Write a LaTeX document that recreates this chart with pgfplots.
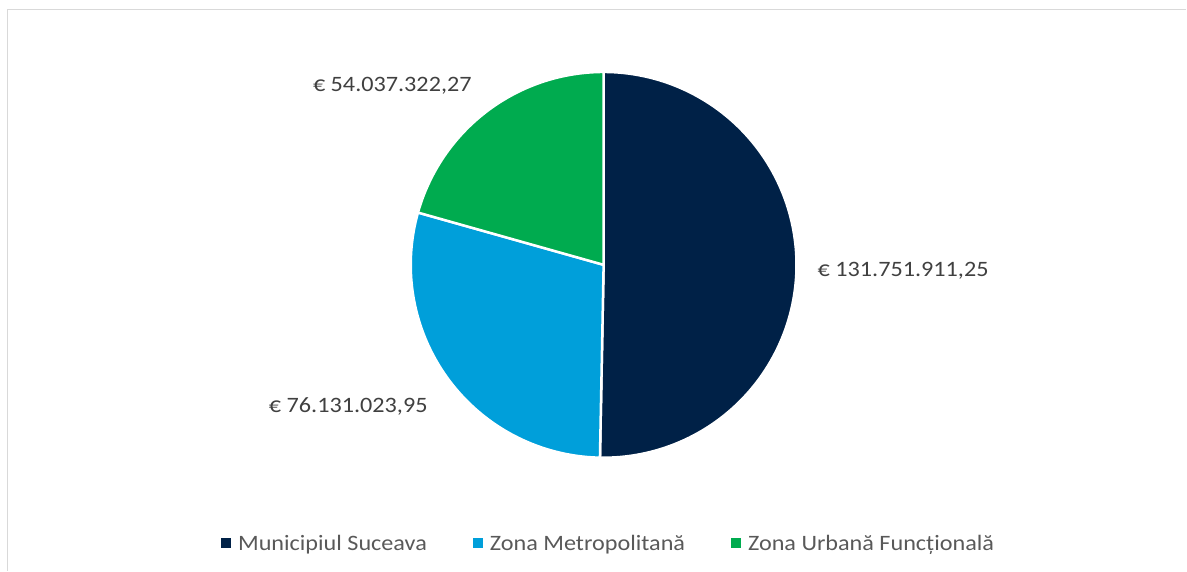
\documentclass[border=0pt]{standalone}
\usepackage{pgfplots}
\pgfplotsset{compat=1.18}
\usepackage{fontspec}
\setmainfont{Carlito}[FakeStretch=1.1]
\definecolor{cNavy}{HTML}{002147}
\definecolor{cBlue}{HTML}{009FDA}
\definecolor{cGreen}{HTML}{00AB4F}
\definecolor{cLabel}{HTML}{404040}
\definecolor{cLegend}{HTML}{595959}
\definecolor{cBorder}{HTML}{D9D9D9}
\begin{document}
\begin{tikzpicture}
% values in millions of euro
\pgfmathsetmacro{\va}{131.75191125}
\pgfmathsetmacro{\vb}{76.13102395}
\pgfmathsetmacro{\vc}{54.03732227}
\pgfmathsetmacro{\vt}{\va+\vb+\vc}
\pgfmathsetmacro{\ta}{90}
\pgfmathsetmacro{\tb}{\ta-360*(\va/\vt)}
\pgfmathsetmacro{\tc}{\tb-360*(\vb/\vt)}
\pgfmathsetmacro{\td}{\tc-360*(\vc/\vt)}
\begin{axis}[
  width=1187pt, height=571pt, scale only axis,
  xmin=0, xmax=1187, ymin=0, ymax=571, y dir=reverse,
  hide axis, clip=false,
  legend columns=3,
  legend style={at={(axis cs:609,544)}, anchor=center, draw=none, fill=none,
    font=\fontsize{22}{26}\selectfont, text=cLegend,
    /tikz/every odd column/.append style={column sep=5pt},
    /tikz/every even column/.append style={column sep=44pt},
    inner sep=0pt},
  legend cell align=left,
  legend image code/.code={\fill[#1,draw=none] (0pt,-4.5pt) rectangle (10pt,5.5pt);},
]
\path (axis cs:0,0) rectangle (axis cs:1187,571);
\draw[cBorder, line width=1.5pt] (axis cs:7.5,571) -- (axis cs:7.5,9.5) -- (axis cs:1187,9.5);

\addplot[fill=cNavy, draw=white, line width=2.5pt, domain=\tb:\ta, samples=120, variable=\t]
  ({604+193*cos(\t)},{265-193*sin(\t)}) -- (axis cs:604,265) -- cycle;
\addlegendentry{Municipiul Suceava}
\addplot[fill=cBlue, draw=white, line width=2.5pt, domain=\tc:\tb, samples=80, variable=\t]
  ({604+193*cos(\t)},{265-193*sin(\t)}) -- (axis cs:604,265) -- cycle;
\addlegendentry{Zona Metropolitană}
\addplot[fill=cGreen, draw=white, line width=2.5pt, domain=\td:\tc, samples=60, variable=\t]
  ({604+193*cos(\t)},{265-193*sin(\t)}) -- (axis cs:604,265) -- cycle;
\addlegendentry{Zona Urbană Funcțională}

\node[anchor=west, text=cLabel, font=\fontsize{22}{26}\selectfont, inner sep=0pt] at (axis cs:818,271) {€ 131.751.911,25};
\node[anchor=east, text=cLabel, font=\fontsize{22}{26}\selectfont, inner sep=0pt] at (axis cs:428,407) {€ 76.131.023,95};
\node[anchor=west, text=cLabel, font=\fontsize{22}{26}\selectfont, inner sep=0pt] at (axis cs:313,86) {€ 54.037.322,27};
\end{axis}
\end{tikzpicture}
\end{document}
